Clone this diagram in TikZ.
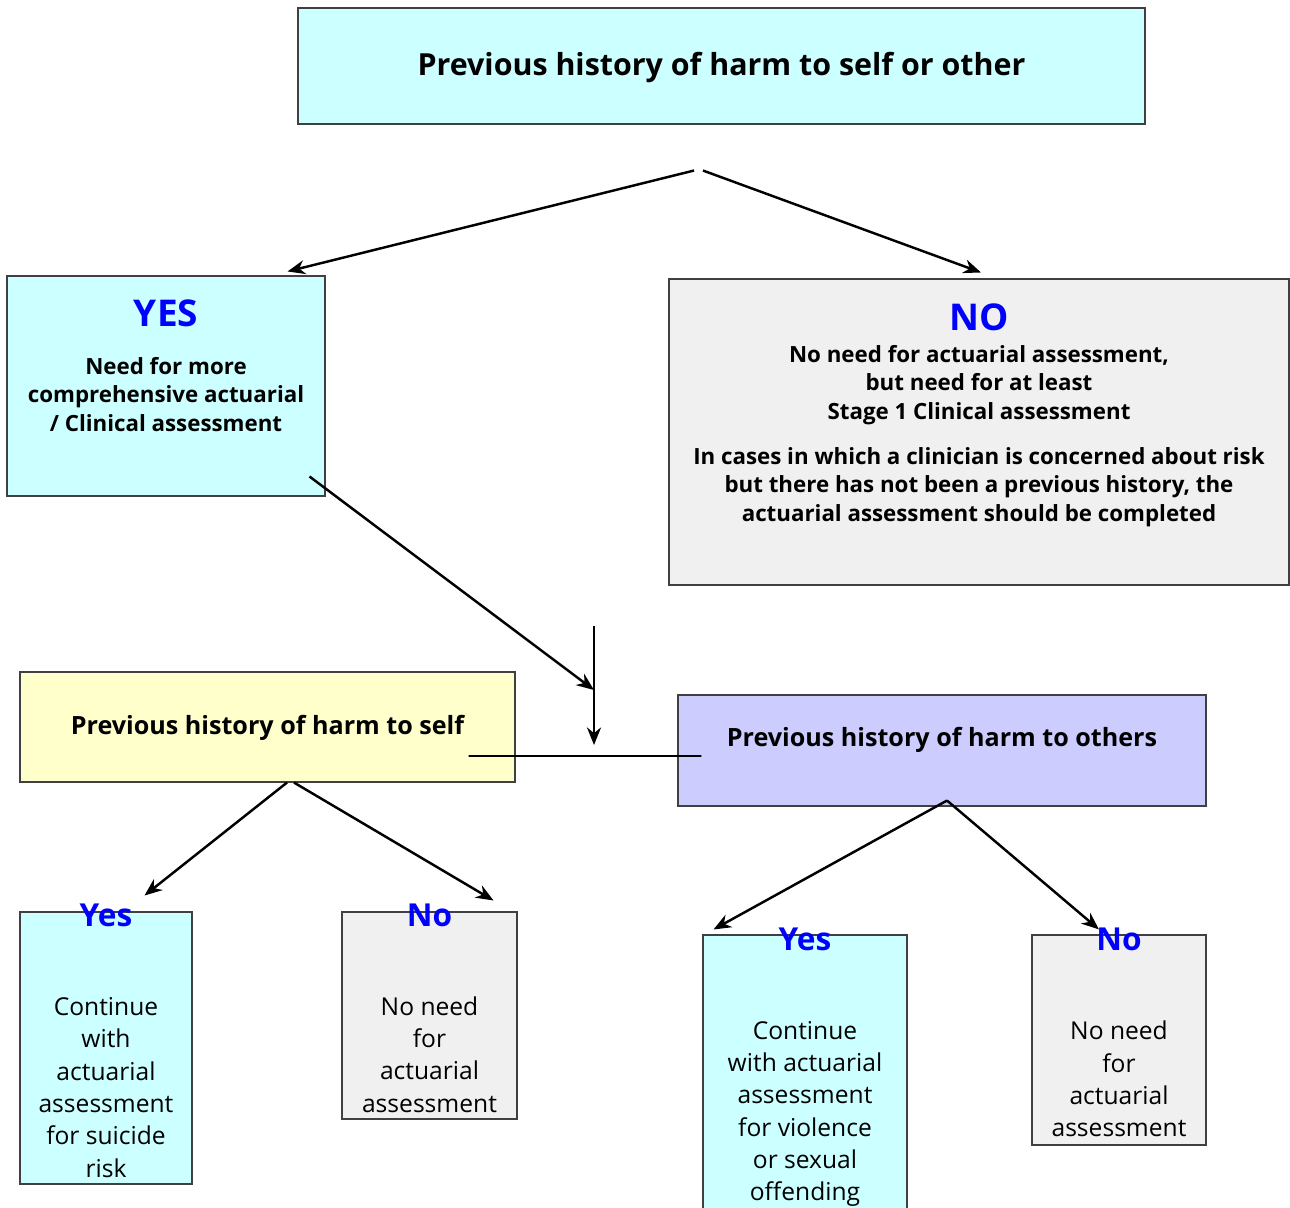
\documentclass[tikz,border=0pt]{standalone}
\usepackage{fontspec}
\setmainfont{Open Sans}
\usepackage{xcolor}
\usepackage{tikz}
\usetikzlibrary{calc,arrows.meta}

\newlength\px
\setlength\px{0.02cm}

\definecolor{boxcyan}{HTML}{CCFFFF}
\definecolor{boxgrey}{HTML}{F0F0F0}
\definecolor{boxyellow}{HTML}{FFFFCC}
\definecolor{boxlilac}{HTML}{CCCCFF}
\definecolor{boxline}{HTML}{404040}

\tikzset{
  panel/.style={draw=boxline, line width=0.6pt, inner sep=0pt, rectangle},
  head/.style={font=\fontsize{21}{24}\selectfont\bfseries, text=blue},
  tag/.style={font=\fontsize{18}{20}\selectfont\bfseries, text=blue, inner sep=0pt},
  boldtext/.style={font=\fontsize{12.7}{16.3}\selectfont\bfseries, align=center, inner sep=0pt},
  plaintext/.style={font=\fontsize{14}{18.4}\selectfont, align=center, inner sep=0pt},
  link/.style={->, line width=1.4pt},
}

\begin{document}
\begin{tikzpicture}[x=\px, y=-\px, >={Stealth[length=10pt,width=8pt]}]
  \useasboundingbox (0,0) rectangle (1290,1207);

  \node[panel, fill=boxcyan, minimum width=847\px, minimum height=116\px,
        font=\fontsize{17.3}{20}\selectfont\bfseries] (title) at (721.5,66) {};
  \node[font=\fontsize{17.3}{20}\selectfont\bfseries] (titletext) at ($(title.center)+(0,2)$)
    {Previous history of harm to self or other};

  \node[panel, fill=boxcyan, minimum width=318\px, minimum height=220\px] (yes) at (166,386) {};
  \node[panel, fill=boxgrey, minimum width=620\px, minimum height=306\px] (no) at (979,432) {};

  \node[head] (yeshead) at ($(yes.north)+(0,38)$) {YES};
  \node[boldtext] (yestext) at ($(yes.north)+(0,119)$)
    {Need for more\\comprehensive actuarial\\/ Clinical assessment};

  \node[head] (nohead) at ($(no.north)+(0,39)$) {NO};
  \node[boldtext] (notext) at ($(no.north)+(0,106.5)$)
    {No need for actuarial assessment,\\but need for at least\\Stage 1 Clinical assessment};
  \node[boldtext] (nonote) at ($(no.north)+(0,208.5)$)
    {In cases in which a clinician is concerned about risk\\but there has not been a previous history, the\\actuarial assessment should be completed};

  \node[panel, fill=boxyellow, minimum width=495\px, minimum height=110\px] (self) at (267.5,727) {};
  \node[font=\fontsize{14.3}{16}\selectfont\bfseries] (selftext) at ($(self.center)+(0,1)$)
    {Previous history of harm to self};
  \node[panel, fill=boxlilac, minimum width=528\px, minimum height=111\px] (others) at (942,750.5) {};
  \node[font=\fontsize{14.3}{16}\selectfont\bfseries] (otherstext) at ($(others.center)+(0,-11)$)
    {Previous history of harm to others};

  \node[panel, fill=boxcyan, minimum width=172\px, minimum height=272\px] (ys) at (106,1048) {};
  \node[panel, fill=boxgrey, minimum width=175\px, minimum height=207\px] (ns) at (429.5,1015.5) {};
  \node[panel, fill=boxcyan, minimum width=204\px, minimum height=300\px] (yo) at (805,1085) {};
  \node[panel, fill=boxgrey, minimum width=174\px, minimum height=210\px] (no2) at (1119,1040) {};

  \node[tag] (ystag) at ($(ys.north)+(0,4)$) {Yes};
  \node[tag] (nstag) at ($(ns.north)+(0,4)$) {No};
  \node[tag] (yotag) at ($(yo.north)+(0,5)$) {Yes};
  \node[tag] (no2tag) at ($(no2.north)+(0,5)$) {No};

  \node[plaintext] (ystext) at ($(ys.north)+(0,176)$)
    {Continue\\with\\actuarial\\assessment\\for suicide\\risk};
  \node[plaintext] (nstext) at ($(ns.north)+(0,143)$)
    {No need\\for\\actuarial\\assessment};
  \node[plaintext] (yotext) at ($(yo.north)+(0,179.5)$)
    {Continue\\with actuarial\\assessment\\for violence\\or sexual\\offending};
  \node[plaintext] (no2text) at ($(no2.north)+(0,144.5)$)
    {No need\\for\\actuarial\\assessment};

  \coordinate (join) at (594,756);

  \draw[link] ($(title.south)+(-27.5,46)$) -- ($(yes.north east)+(-38,-4)$);
  \draw[link] ($(title.south)+(-18.5,46)$) -- ($(no.north)+(2,-6)$);

  \draw[link] ($(yes.south east)+(-16,-20)$) -- ($(join)+(0,-66)$);
  \draw[link] ($(join)+(0,-130)$) -- ($(join)+(0,-11)$);
  \draw[line width=0.9pt] ($(self.east)+(-47,29)$) -- ($(others.west)+(24,5.5)$);

  \draw[link] ($(self.south)+(19.5,0)$) -- ($(ys.north east)+(-48,-16)$);
  \draw[link] ($(self.south)+(26.5,0)$) -- ($(ns.north east)+(-24,-11)$);
  \draw[link] ($(others.south)+(5,-6)$) -- ($(yo.north west)+(11,-5)$);
  \draw[link] ($(others.south)+(5,-6)$) -- ($(no2.north)+(-20,-5)$);
\end{tikzpicture}
\end{document}
